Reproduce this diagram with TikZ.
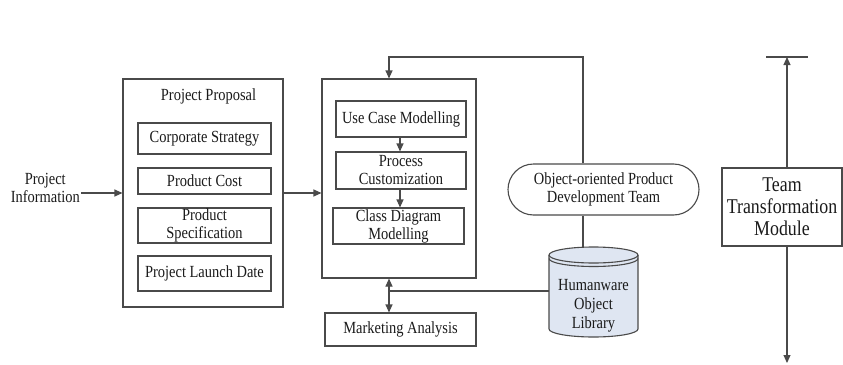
\documentclass[tikz,border=0pt]{standalone}
\usepackage{fontspec}
\setmainfont{Liberation Serif}[FakeStretch=0.85]
\usetikzlibrary{arrows.meta,shapes.misc}
\definecolor{linec}{HTML}{4A4A4A}
\definecolor{textc}{HTML}{1A1A1A}
\definecolor{libfill}{HTML}{DFE6F2}
\tikzset{
  txt/.style={inner sep=0pt, align=center, text=textc, font=\fontsize{17}{18}\selectfont},
  box/.style={txt, draw=linec, line width=1.1pt},
  conn/.style={draw=linec, line width=1.1pt},
  arr/.style={conn, -{Triangle[length=8pt,width=7pt]}},
  darr/.style={conn, {Triangle[length=8pt,width=7pt]}-{Triangle[length=8pt,width=7pt]}},
}
\begin{document}
\begin{tikzpicture}[x=1pt,y=-1pt]
\useasboundingbox (0,0) rectangle (843,364);

% input
\node[txt, anchor=east] (info) at (80,188) {Project\\Information};
\coordinate (infoend) at (81,193);

% project proposal block
\node[box, minimum width=160pt, minimum height=228pt] (pp) at (203,193) {};
\node[txt] (pptitle) at (208.5,96) {Project Proposal};
\node[box, minimum width=133pt, minimum height=31pt] (cs) at (204.5,138.5) {Corporate Strategy};
\node[box, minimum width=133pt, minimum height=26pt] (pc) at (204.5,181) {Product Cost};
\node[box, minimum width=133pt, minimum height=35pt] (ps) at (204.5,225.5) {Product\\Specification};
\node[box, minimum width=133pt, minimum height=35pt] (pl) at (204.5,273.5) {Project Launch Date};

% modelling block
\node[box, minimum width=154pt, minimum height=199pt] (main) at (399,178.5) {};
\node[box, minimum width=130pt, minimum height=36pt] (uc) at (401,119) {Use Case Modelling};
\node[box, minimum width=130pt, minimum height=37pt] (pcz) at (401,170.5) {Process\\Customization};
\node[box, minimum width=131pt, minimum height=36pt] (cd) at (398.5,226) {Class Diagram\\Modelling};

\node[box, minimum width=151pt, minimum height=33pt] (mk) at (400.5,329.5) {Marketing Analysis};

% team and library
\node[box, rounded rectangle, minimum width=191pt, minimum height=51pt] (pill) at (603.5,189.5)
  {Object-oriented Product\\Development Team};

\fill[libfill] (549,255) -- (549,329) arc[start angle=180, end angle=0, x radius=44.5, y radius=8]
  -- (638,255) arc[start angle=0, end angle=-180, x radius=44.5, y radius=8] -- cycle;
\draw[conn] (549,255) -- (549,329) arc[start angle=180, end angle=0, x radius=44.5, y radius=8] -- (638,255);
\draw[conn] (593.5,255) ellipse[x radius=44.5, y radius=8];
\draw[conn] (549,258.5) arc[start angle=180, end angle=0, x radius=44.5, y radius=8];
\node[inner sep=0pt, minimum width=89pt, minimum height=90pt] (lib) at (593.5,292) {};
\node[txt, font=\fontsize{17}{19}\selectfont] (libtxt) at (593.5,306) {Humanware\\Object\\Library};

% team transformation module
\node[box, minimum width=120pt, minimum height=78pt, font=\fontsize{21}{22}\selectfont] (ttm) at (782,207)
  {Team\\Transformation\\Module};
\coordinate (ttx) at (787,0);
\coordinate (bar) at (787,57);
\coordinate (bottom) at (787,363);

% connectors
\draw[arr] (infoend) -- (pp.west |- infoend);
\draw[arr] (pp.east) -- (pp.east -| main.west);
\draw[arr] (uc.south -| 400,0) -- (pcz.north -| 400,0);
\draw[arr] (pcz.south -| 400,0) -- (cd.north -| 400,0);

\coordinate (ptop) at (583,57);
\coordinate (loop) at (389,57);
\draw[arr] (pill.north -| ptop) -- (ptop) -- (loop) -- (main.north -| loop);
\draw[conn] (pill.south -| ptop) -- (lib.north -| ptop);

\coordinate (mk_x) at (389,291);
\draw[conn] (lib.west |- mk_x) -- (mk_x);
\draw[darr] (main.south -| mk_x) -- (mk.north -| mk_x);

\draw[conn] (766,57) -- (808,57);
\draw[arr] (ttm.north -| ttx) -- (bar);
\draw[arr] (ttm.south -| ttx) -- (bottom);
\end{tikzpicture}
\end{document}
